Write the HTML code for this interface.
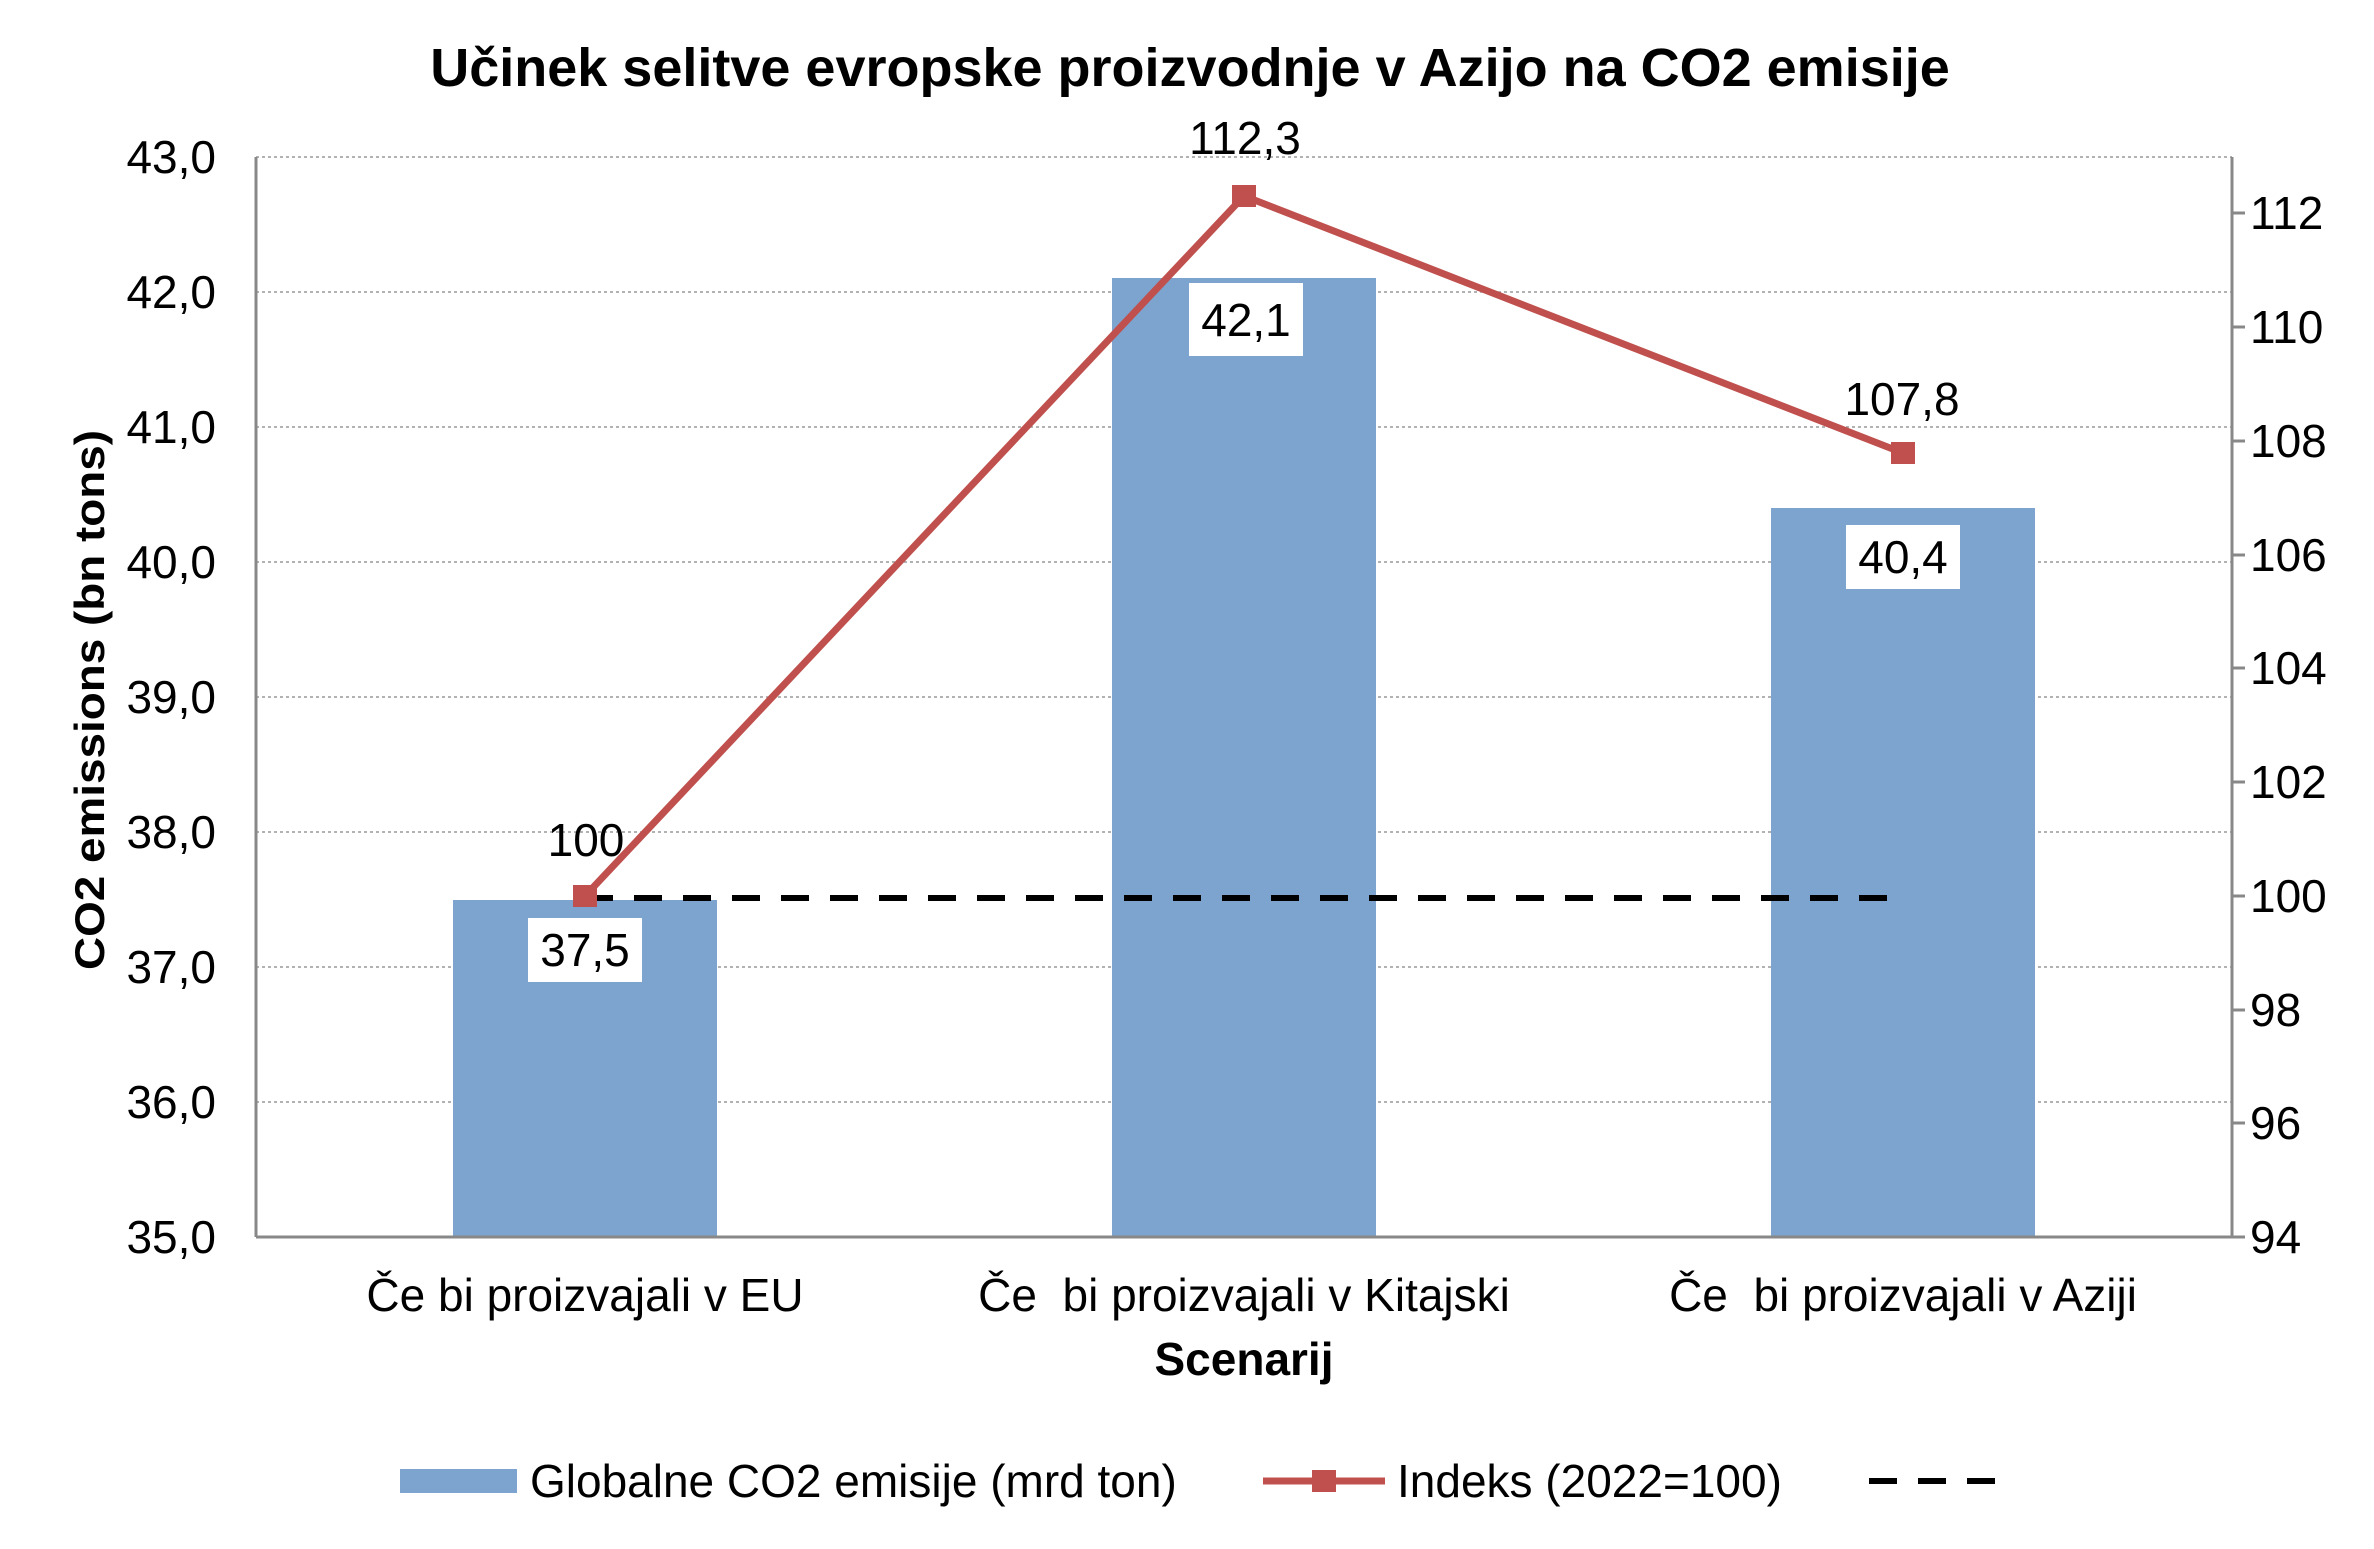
<!DOCTYPE html>
<html><head><meta charset="utf-8"><style>html,body{margin:0;padding:0;background:#fff}svg{display:block}</style></head><body>
<svg width="2374" height="1549" viewBox="0 0 2374 1549" xmlns="http://www.w3.org/2000/svg" font-family="Liberation Sans, Arial, sans-serif">
<rect width="2374" height="1549" fill="#fff"/>
<text x="1190" y="86" font-size="54" font-weight="bold" text-anchor="middle">Učinek selitve evropske proizvodnje v Azijo na CO2 emisije</text>
<g stroke="#999" stroke-width="1.5" stroke-dasharray="3,3">
<line x1="256" y1="157" x2="2232" y2="157"/><line x1="256" y1="292" x2="2232" y2="292"/><line x1="256" y1="427" x2="2232" y2="427"/><line x1="256" y1="562" x2="2232" y2="562"/><line x1="256" y1="697" x2="2232" y2="697"/><line x1="256" y1="832" x2="2232" y2="832"/><line x1="256" y1="967" x2="2232" y2="967"/><line x1="256" y1="1102" x2="2232" y2="1102"/>
</g>
<g fill="#7da3cf">
<rect x="453" y="900" width="264" height="337"/><rect x="1112" y="278" width="264" height="959"/><rect x="1771" y="508" width="264" height="729"/>
</g>
<g stroke="#888" stroke-width="3" fill="none">
<line x1="256" y1="157" x2="256" y2="1237"/><line x1="2232" y1="157" x2="2232" y2="1237"/><line x1="256" y1="1237" x2="2245" y2="1237"/>
<line x1="2232" y1="213" x2="2245" y2="213"/><line x1="2232" y1="327" x2="2245" y2="327"/><line x1="2232" y1="441" x2="2245" y2="441"/><line x1="2232" y1="555" x2="2245" y2="555"/><line x1="2232" y1="668" x2="2245" y2="668"/><line x1="2232" y1="782" x2="2245" y2="782"/><line x1="2232" y1="896" x2="2245" y2="896"/><line x1="2232" y1="1010" x2="2245" y2="1010"/><line x1="2232" y1="1123" x2="2245" y2="1123"/>
</g>
<g font-size="46" text-anchor="end">
<text x="216" y="173">43,0</text><text x="216" y="308">42,0</text><text x="216" y="443">41,0</text><text x="216" y="578">40,0</text><text x="216" y="713">39,0</text><text x="216" y="848">38,0</text><text x="216" y="983">37,0</text><text x="216" y="1118">36,0</text><text x="216" y="1253">35,0</text>
</g>
<g font-size="46">
<text x="2250" y="229">112</text><text x="2250" y="343">110</text><text x="2250" y="457">108</text><text x="2250" y="571">106</text><text x="2250" y="684">104</text><text x="2250" y="798">102</text><text x="2250" y="912">100</text><text x="2250" y="1026">98</text><text x="2250" y="1139">96</text><text x="2250" y="1253">94</text>
</g>
<text transform="translate(104,700) rotate(-90)" font-size="42" font-weight="bold" text-anchor="middle" textLength="540" lengthAdjust="spacingAndGlyphs">CO2 emissions (bn tons)</text>
<line x1="585" y1="898" x2="1905" y2="898" stroke="#000" stroke-width="6" stroke-dasharray="28,21"/>
<polyline points="585,896 1244,196 1903,453" fill="none" stroke="#c0504d" stroke-width="7"/>
<g fill="#c0504d"><rect x="573" y="885" width="24" height="22"/><rect x="1232" y="185" width="24" height="22"/><rect x="1891" y="442" width="24" height="22"/></g>
<g fill="#fff"><rect x="528" y="918" width="114" height="64"/><rect x="1189" y="283" width="114" height="73"/><rect x="1846" y="525" width="114" height="64"/></g>
<g font-size="46" text-anchor="middle">
<text x="585" y="966">37,5</text><text x="1246" y="336">42,1</text><text x="1903" y="573">40,4</text>
<text x="586" y="856">100</text><text x="1245" y="154">112,3</text><text x="1902" y="415">107,8</text>
<text x="585" y="1311">Če bi proizvajali v EU</text><text x="1244" y="1311" xml:space="preserve">Če  bi proizvajali v Kitajski</text><text x="1903" y="1311" xml:space="preserve">Če  bi proizvajali v Aziji</text>
</g>
<text x="1244" y="1375" font-size="46" font-weight="bold" text-anchor="middle">Scenarij</text>
<rect x="400" y="1469" width="117" height="24" fill="#7da3cf"/>
<text x="530" y="1497" font-size="46">Globalne CO2 emisije (mrd ton)</text>
<line x1="1263" y1="1481" x2="1385" y2="1481" stroke="#c0504d" stroke-width="7"/>
<rect x="1312" y="1470" width="24" height="22" fill="#c0504d"/>
<text x="1397" y="1497" font-size="46">Indeks (2022=100)</text>
<line x1="1869" y1="1481" x2="1995" y2="1481" stroke="#000" stroke-width="6" stroke-dasharray="28,21"/>
</svg>
</body></html>
